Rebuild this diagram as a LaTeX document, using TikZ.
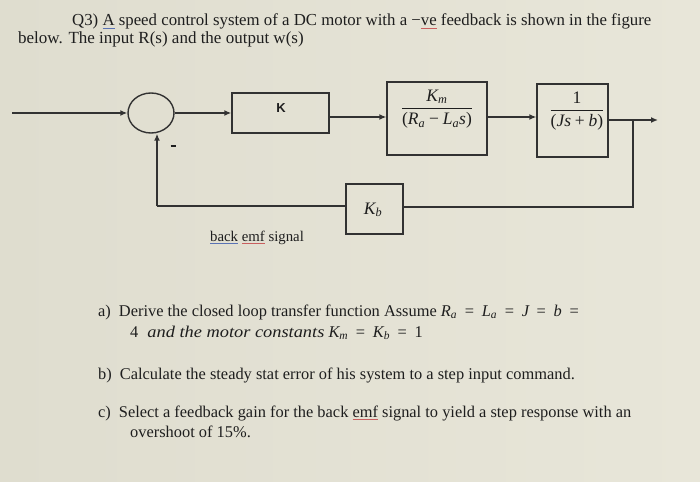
\documentclass[tikz,border=0pt]{standalone}
\usepackage{amsmath}
\usepackage{graphicx}
\usepackage{fontspec}
\setmainfont{Liberation Serif}
\setsansfont{Liberation Sans}
\usetikzlibrary{arrows.meta,shapes.geometric}
\definecolor{paperL}{RGB}{223,221,207}
\definecolor{paperR}{RGB}{232,230,217}
\definecolor{ink}{RGB}{30,30,30}
\definecolor{lin}{RGB}{50,50,50}
\definecolor{sqred}{RGB}{200,95,95}
\definecolor{sqblue}{RGB}{90,115,180}
\newcommand\mi[1]{\mathit{#1}}
\newcommand\eqq{\mathrel{\,\text{=}\,}}
\newcommand\mns{\mathbin{\text{−}}}
\newcommand\pls{\mathbin{\text{+}}}
\newcommand\tx[1]{\text{#1}}
\newcommand\squl[2]{\setbox0\hbox{#2}\rlap{\textcolor{#1}{\rule[-3pt]{\wd0}{0.9pt}}}#2}
\tikzset{
  blk/.style={draw=lin,line width=1.4pt,rectangle,inner sep=0pt},
  wire/.style={draw=lin,line width=1.4pt},
  arr/.style={wire,-{Latex[length=7pt,width=6pt]}},
  txt/.style={anchor=base west,inner sep=0pt,text=ink},
  mathlab/.style={inner sep=0pt,text=ink,font=\fontsize{17.5}{20}\selectfont},
  qfont/.style={font=\fontsize{16.4}{19}\selectfont},
}
\begin{document}
\begin{tikzpicture}[x=1pt,y=-1pt]
\shade[left color=paperL,right color=paperR] (0,0) rectangle (700,481);
\useasboundingbox (0,0) rectangle (700,481);
% title
\node[txt,font=\fontsize{16.8}{19}\selectfont] (t1) at (72,26) {Q3) \squl{sqblue}{A} speed control system of a DC motor with a −\squl{sqred}{ve} feedback is shown in the figure};
\node[txt,font=\fontsize{17}{19}\selectfont] (t2) at (18,43.5) {below. The input R(s) and the output w(s)};
% blocks
\node[draw=lin,line width=1.4pt,ellipse,minimum width=46pt,minimum height=40pt,inner sep=0pt] (sum) at (151,113) {};
\node[blk,minimum width=97pt,minimum height=40pt] (K) at (280.5,113) {};
\node[inner sep=0pt,text=ink,font=\sffamily\bfseries\fontsize{13}{15}\selectfont] (Klab) at (281,108) {K};
\node[blk,minimum width=100pt,minimum height=73pt] (Km) at (437,118.5) {};
\node[mathlab] (Kmlab) at (437,109) {$\dfrac{\mi{K}_{\mi{m}}}{\tx{(}\mi{R}_{\mi{a}}\mns\mi{L}_{\mi{a}}\mi{s}\tx{)}}$};
\node[blk,minimum width=71pt,minimum height=73pt] (G) at (572.5,120.5) {};
\node[mathlab] (Glab) at (577,111) {$\dfrac{\tx{1}}{\tx{(}\mi{Js}\pls\mi{b}\tx{)}}$};
\node[blk,minimum width=57pt,minimum height=50pt] (Kb) at (374.5,209) {};
\node[mathlab] (Kblab) at (373,210) {$\mi{K}_{\mi{b}}$};
\node[inner sep=0pt,text=ink] (minus) at (173,146) {\rule{5pt}{1.8pt}};
% connectors
\coordinate (in) at (12,113);
\coordinate (br) at (633,120);
\coordinate (out) at (658,120);
\coordinate (fbR) at (633,207);
\coordinate (fbL) at (157,206);
\draw[arr] (in) -- (sum.west);
\draw[arr] (sum.east) -- (K.west |- sum.east);
\draw[arr] (K.east |- 0,117) -- (Km.west |- 0,117);
\draw[arr] (Km.east |- 0,117) -- (G.west |- 0,117);
\draw[arr] (G.east |- br) -- (out);
\draw[wire] (br) -- (fbR) -- (Kb.east |- fbR);
\draw[wire] (Kb.west |- fbL) -- (fbL);
\draw[arr] (fbL) -- (fbL |- sum.south);
\node[txt,font=\fontsize{14.8}{16}\selectfont] (bemf) at (210,241) {\squl{sqblue}{back} \squl{sqred}{emf} signal};
% questions
\node[txt,qfont] (qa1) at (98,316) {a)\hspace{8pt}Derive the closed loop transfer function Assume $\mi{R}_{\mi{a}}\eqq\mi{L}_{\mi{a}}\eqq\mi{J}\eqq\mi{b}\eqq$};
\node[txt,qfont] (qa2) at (130,337) {4\hspace{9pt}\scalebox{1.12}[1]{\textit{and the motor constants}} $\mi{K}_{\mi{m}}\eqq\mi{K}_{\mi{b}}\eqq\tx{1}$};
\node[txt,qfont] (qb) at (98,379) {b)\hspace{8pt}Calculate the steady stat error of his system to a step input command.};
\node[txt,qfont] (qc1) at (98,417) {c)\hspace{8pt}Select a feedback gain for the back \squl{sqred}{emf} signal to yield a step response with an};
\node[txt,qfont] (qc2) at (130,437) {overshoot of 15\%.};
\end{tikzpicture}
\end{document}
